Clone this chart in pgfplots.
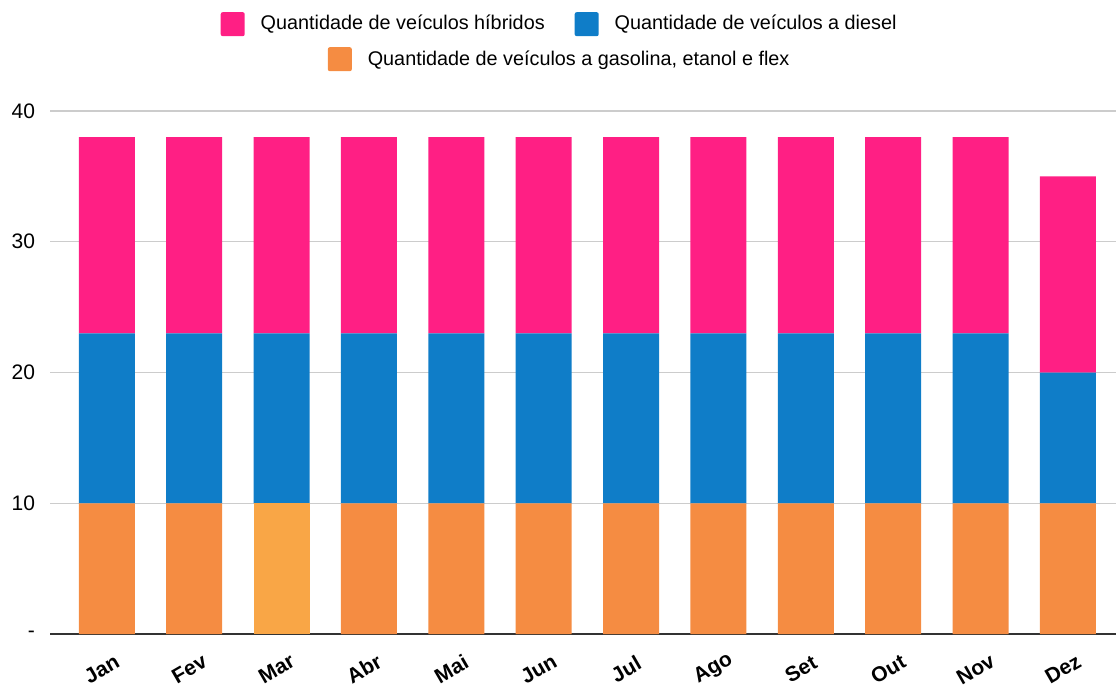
\documentclass[border=0pt]{standalone}
\usepackage{fontspec}
\setmainfont{Liberation Sans}
\usepackage{pgfplots}
\pgfplotsset{compat=1.18}

\definecolor{hib}{HTML}{FF1F84}
\definecolor{dsl}{HTML}{0F7DC8}
\definecolor{gas}{HTML}{F58C42}
\definecolor{gasmar}{HTML}{F9A646}

\pgfplotsset{
  sq legend/.style={
    legend image code/.code={\path[##1, draw=none, rounded corners=1pt] (0pt,-6pt) rectangle (12pt,6pt);},
    legend style={draw=none, fill=none, anchor=center, legend columns=2,
      font=\fontsize{9.9}{11}\selectfont,
      /tikz/every odd column/.append style={column sep=6pt},
      /tikz/every even column/.append style={column sep=13pt}},
  },
}

\begin{document}
\begin{tikzpicture}
\path[use as bounding box] (-25pt,-26pt) rectangle (534pt,317pt);
\begin{axis}[
  scale only axis,
  width=533pt, height=261.5pt,
  ybar stacked, bar width=28pt,
  xmin=-0.65, xmax=11.55, ymin=0, ymax=40,
  xtick={0,...,11},
  xticklabels={Jan,Fev,Mar,Abr,Mai,Jun,Jul,Ago,Set,Out,Nov,Dez},
  ytick={0,10,20,30,40}, yticklabels={-,10,20,30,40},
  major tick length=0pt,
  ymajorgrids, grid style={draw=black!20, line width=0.7pt},
  axis x line*=bottom, axis y line*=left,
  x axis line style={draw=black!80, line width=1pt},
  y axis line style={draw=none},
  yticklabel style={font=\fontsize{10.5}{12}\selectfont, xshift=-4pt},
  xticklabel style={font=\bfseries\fontsize{10.5}{12}\selectfont, xshift=-2.5pt, yshift=-17.5pt, rotate=30, anchor=center},
  sq legend,
  legend style={at={(0.479,1.166)}},
]
\addlegendimage{fill=hib}
\addlegendentry{Quantidade de veículos híbridos}
\addlegendimage{fill=dsl}
\addlegendentry{Quantidade de veículos a diesel}

\addplot[fill=gas, draw=none, forget plot] coordinates {
  (0,10) (1,10) (2,0) (3,10) (4,10) (5,10) (6,10) (7,10) (8,10) (9,10) (10,10) (11,10)};
\addplot[fill=gasmar, draw=none, forget plot] coordinates {
  (0,0) (1,0) (2,10) (3,0) (4,0) (5,0) (6,0) (7,0) (8,0) (9,0) (10,0) (11,0)};
\addplot[fill=dsl, draw=none, forget plot] coordinates {
  (0,13) (1,13) (2,13) (3,13) (4,13) (5,13) (6,13) (7,13) (8,13) (9,13) (10,13) (11,10)};
\addplot[fill=hib, draw=none, forget plot] coordinates {
  (0,15) (1,15) (2,15) (3,15) (4,15) (5,15) (6,15) (7,15) (8,15) (9,15) (10,15) (11,15)};
\end{axis}

\begin{axis}[
  scale only axis,
  width=533pt, height=261.5pt,
  xmin=0, xmax=1, ymin=0, ymax=1,
  hide axis,
  sq legend,
  legend style={at={(0.479,1.099)}},
]
\addlegendimage{fill=gas}
\addlegendentry{Quantidade de veículos a gasolina, etanol e flex}
\end{axis}
\end{tikzpicture}
\end{document}
